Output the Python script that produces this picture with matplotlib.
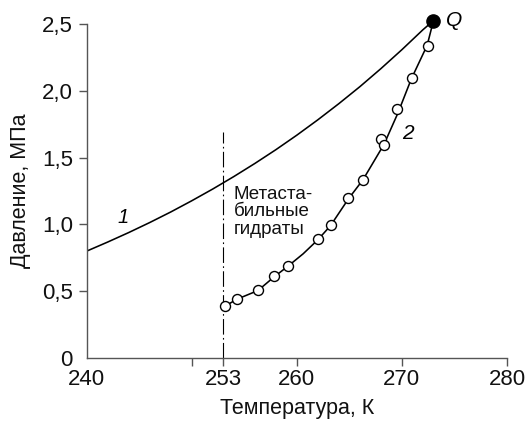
import matplotlib.pyplot as plt

plt.rcParams['font.family'] = ['Liberation Sans', 'DejaVu Sans']

# curve 1
curve1_t = [240, 242, 244, 246, 248, 250, 252, 254, 256, 258, 260, 262, 264, 266, 268, 270, 272, 273.0]
curve1_p = [0.80, 0.868, 0.939, 1.014, 1.093, 1.177, 1.265, 1.358, 1.456, 1.559, 1.668,
            1.783, 1.904, 2.031, 2.166, 2.308, 2.457, 2.525]

# curve 2 (line through the experimental points)
curve2_t = [253.2, 254.3, 256.3, 257.8, 259.2, 260.6, 262.0, 263.2, 264.9, 266.3, 268.3,
            269.6, 270.9, 272.4, 273.0]
curve2_p = [0.39, 0.44, 0.505, 0.605, 0.69, 0.78, 0.885, 0.99, 1.19, 1.335, 1.60,
            1.83, 2.09, 2.34, 2.525]

# experimental points
pts_t = [253.16, 254.29, 256.30, 257.83, 259.16, 262.04, 263.24, 264.89, 266.28, 267.97, 268.33, 269.52, 270.92, 272.47]
pts_p = [0.392, 0.442, 0.507, 0.612, 0.690, 0.887, 0.994, 1.194, 1.336, 1.636, 1.596, 1.866, 2.095, 2.332]

# quadruple point Q
q_t, q_p = 273.0, 2.525

# metastable boundary
meta_t = 253
meta_p = [0, 1.69]

x_ticks = [240, 250, 253, 260, 270, 280]
x_labels = ['240', '', '253', '260', '270', '280']
y_ticks = [0, 0.5, 1.0, 1.5, 2.0, 2.5]
y_labels = ['0', '0,5', '1,0', '1,5', '2,0', '2,5']

fig = plt.figure(figsize=(5.31, 4.22), dpi=100)
ax = fig.add_axes([86.7 / 531, 1 - 358 / 422, (507 - 86.7) / 531, (358 - 24) / 422])

ax.plot(curve1_t, curve1_p, color='black', lw=1.15)
ax.plot(curve2_t, curve2_p, color='black', lw=1.15)
ax.plot([meta_t, meta_t], meta_p, color='black', lw=0.8,
        linestyle=(0, (14, 3, 1.5, 3)))
ax.plot(pts_t, pts_p, 'o', ms=7.2, mfc='white', mec='black', mew=1.0,
        clip_on=False, zorder=3)
ax.plot([q_t], [q_p], 'o', ms=9.5, color='black', clip_on=False, zorder=4)

ax.text(275.0, q_p, 'Q', style='italic', fontsize=15, ha='center', va='center')
ax.text(243.5, 1.05, '1', style='italic', fontsize=14.5, ha='center', va='center')
ax.text(270.6, 1.68, '2', style='italic', fontsize=15, ha='center', va='center')
ax.text(254.0, 1.29, 'Метаста-\nбильные\nгидраты', fontsize=13.5, ha='left',
        va='top', linespacing=1.05, color='#111111')

ax.set_xlim(240, 280)
ax.set_ylim(0, 2.5)
ax.set_xticks(x_ticks)
ax.set_xticklabels(x_labels)
ax.set_yticks(y_ticks)
ax.set_yticklabels(y_labels)

for s in ['top', 'right']:
    ax.spines[s].set_visible(False)
for s in ['left', 'bottom']:
    ax.spines[s].set_color('#555555')
    ax.spines[s].set_linewidth(1.0)

ax.tick_params(direction='out', length=5.5, width=1.0, color='#555555',
               labelsize=16, labelcolor='#111111')
ax.tick_params(axis='x', pad=2.5)
ax.tick_params(axis='y', pad=4.5)
ax.xaxis.get_major_ticks()[0].tick1line.set_visible(False)
ax.yaxis.get_major_ticks()[0].tick1line.set_visible(False)

ax.set_xlabel('Температура, К', fontsize=15.5, labelpad=6, color='#111111')
ax.set_ylabel('Давление, МПа', fontsize=15.5, labelpad=8, color='#111111')

fig.savefig('out.png', dpi=100)
